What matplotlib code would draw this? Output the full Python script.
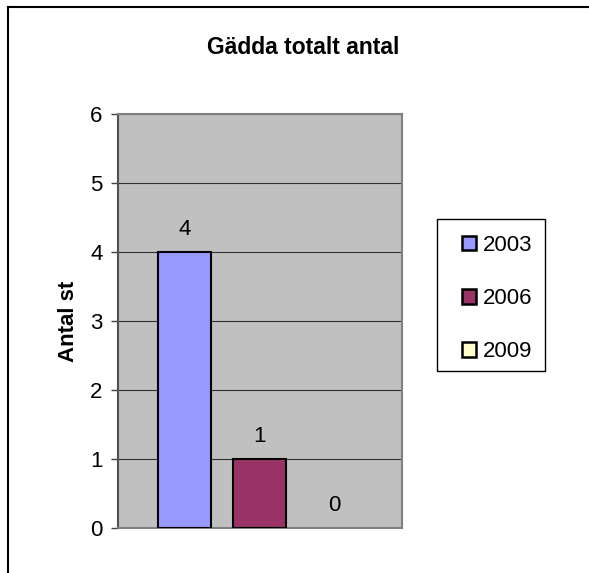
import matplotlib
matplotlib.use("Agg")
import matplotlib.pyplot as plt
from matplotlib.patches import Rectangle

plt.rcParams['font.family'] = ['Liberation Sans', 'DejaVu Sans']

title = "Gädda totalt antal"
ylabel = "Antal st"
series = ["2003", "2006", "2009"]
values = [4, 1, 0]
colors = ["#9999FF", "#993366", "#FFFFCC"]
yticks = [0, 1, 2, 3, 4, 5, 6]

W, H = 589, 573
FS = 16
fig = plt.figure(figsize=(W / 100, H / 100), dpi=100)
fig.patch.set_facecolor("white")

# outer border (top and left visible)
fig.add_artist(plt.Line2D([8 / W, 8 / W], [0, 1 - 7 / H], color="black", lw=1.5, transform=fig.transFigure))
fig.add_artist(plt.Line2D([8 / W, 1], [1 - 7 / H, 1 - 7 / H], color="black", lw=1.5, transform=fig.transFigure))

ax = fig.add_axes([118 / W, 1 - 528 / H, (402 - 118) / W, (528 - 114) / H])
ax.set_facecolor("#C0C0C0")

positions = [0, 1, 2]
for x, v, c in zip(positions, values, colors):
    ax.bar(x, v, width=0.707, color=c, edgecolor="black" if v > 0 else "none",
           linewidth=1.5, zorder=3)
    ax.text(x, v + 0.32, str(v), ha="center", va="center", fontsize=FS, zorder=4)

ax.set_xlim(-0.887, 2.9)
ax.set_ylim(0, 6)
ax.set_yticks(yticks)
ax.set_yticklabels([str(t) for t in yticks], fontsize=FS)
ax.set_xticks([])
ax.tick_params(axis="y", direction="out", length=5, width=1, color="#404040", pad=6)
ax.yaxis.grid(True, color="#303030", linewidth=0.8, zorder=1)
ax.set_axisbelow(True)
for side, sp in ax.spines.items():
    sp.set_color("#808080")
    sp.set_linewidth(1.5)
ax.spines["left"].set_color("#505050")

ax.set_ylabel(ylabel, fontsize=FS, fontweight="bold", labelpad=8)
fig.text(303 / W, 1 - 48 / H, title, ha="center", va="center", fontsize=16.5, fontweight="bold")

# legend frame
fig.add_artist(Rectangle((437 / W, 1 - 371 / H), (545 - 437) / W, (371 - 219) / H,
                         transform=fig.transFigure, facecolor="white", edgecolor="black",
                         linewidth=1.0, zorder=2))
handles = [Rectangle((0, 0), 1, 1, facecolor=c, edgecolor="black", linewidth=1.8) for c in colors]
leg = fig.legend(handles, series, loc="upper left", bbox_to_anchor=(462 / W, 1 - 235 / H),
                 frameon=False, fontsize=FS,
                 handlelength=0.62, handleheight=0.62, handletextpad=0.3,
                 labelspacing=1.45, borderpad=0, borderaxespad=0)
leg.set_zorder(3)

fig.savefig("out.png", dpi=100)
